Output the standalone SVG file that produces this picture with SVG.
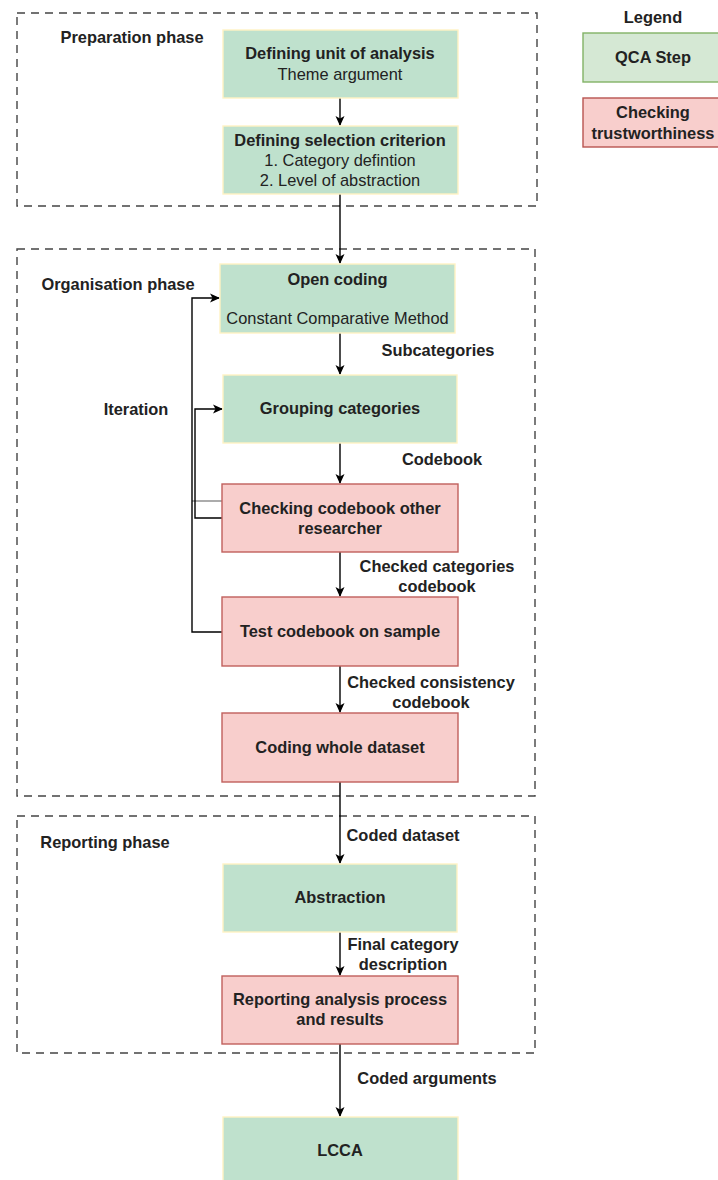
<svg xmlns="http://www.w3.org/2000/svg" width="718" height="1180" viewBox="0 0 718 1180">
  <style>
    text { font-family: "Liberation Sans", Arial, sans-serif; font-size: 16.4px; fill: #222; text-anchor: middle; }
    .b { font-weight: bold; }
    .phase { fill: none; stroke: #444; stroke-width: 1.4; stroke-dasharray: 8 6; }
    .step { fill: #bfe1cd; stroke: #fff2c4; stroke-width: 1.4; }
    .check { fill: #f8cecc; stroke: #c0605c; stroke-width: 1.4; }
    .lg-step { fill: #d5e8d4; stroke: #82b366; stroke-width: 1.4; }
    .lg-check { fill: #f8cecc; stroke: #b85450; stroke-width: 1.4; }
    .edge { fill: none; stroke: #000; stroke-width: 1.4; }
    .edge-grey { fill: none; stroke: #888; stroke-width: 1.4; }
  </style>
  <defs>
    <marker id="arrow" viewBox="0 0 10 10" refX="9" refY="5" markerWidth="10" markerHeight="10" markerUnits="userSpaceOnUse" orient="auto">
      <path d="M0,0.5 L10,5 L0,9.5 L2.5,5 Z" fill="#000"/>
    </marker>
  </defs>

  <!-- phase frames -->
  <g id="preparation-phase">
    <rect class="phase" x="17" y="13" width="520" height="193"/>
    <text class="b" x="132" y="43">Preparation phase</text>
  </g>
  <g id="organisation-phase">
    <rect class="phase" x="17" y="249" width="518" height="547"/>
    <text class="b" x="118" y="290">Organisation phase</text>
    <text class="b" x="136" y="415">Iteration</text>
  </g>
  <g id="reporting-phase">
    <rect class="phase" x="17" y="816" width="518" height="237"/>
    <text class="b" x="105" y="848">Reporting phase</text>
  </g>

  <!-- legend -->
  <g id="legend">
    <text class="b" x="653" y="23">Legend</text>
    <rect class="lg-step" x="583" y="33" width="140" height="49"/>
    <text class="b" x="653" y="63">QCA Step</text>
    <rect class="lg-check" x="583" y="98" width="140" height="49"/>
    <text class="b" x="653" y="118">Checking</text>
    <text class="b" x="653" y="139">trustworthiness</text>
  </g>

  <!-- connectors -->
  <g id="connectors">
    <path class="edge" d="M340,98 V125" marker-end="url(#arrow)"/>
    <path class="edge" d="M340,194 V263" marker-end="url(#arrow)"/>
    <path class="edge" d="M340,333 V374" marker-end="url(#arrow)"/>
    <path class="edge" d="M340,443 V483" marker-end="url(#arrow)"/>
    <path class="edge" d="M340,552 V596" marker-end="url(#arrow)"/>
    <path class="edge" d="M340,666 V712" marker-end="url(#arrow)"/>
    <path class="edge" d="M340,782 V863" marker-end="url(#arrow)"/>
    <path class="edge" d="M340,932 V975" marker-end="url(#arrow)"/>
    <path class="edge" d="M340,1044 V1116" marker-end="url(#arrow)"/>
    <!-- iteration loops -->
    <path class="edge-grey" d="M222,501 H192"/>
    <path class="edge" d="M222,632 H192 V298 H219" marker-end="url(#arrow)"/>
    <path class="edge" d="M222,518 H195 V409 H222" marker-end="url(#arrow)"/>
    <!-- connector labels -->
    <text class="b" x="438" y="356">Subcategories</text>
    <text class="b" x="442" y="465">Codebook</text>
    <text class="b" x="437" y="572">Checked categories</text>
    <text class="b" x="437" y="592">codebook</text>
    <text class="b" x="431" y="688">Checked consistency</text>
    <text class="b" x="431" y="708">codebook</text>
    <text class="b" x="403" y="841">Coded dataset</text>
    <text class="b" x="403" y="950">Final category</text>
    <text class="b" x="403" y="970">description</text>
    <text class="b" x="427" y="1084">Coded arguments</text>
  </g>

  <!-- steps -->
  <g id="unit-of-analysis">
    <rect class="step" x="223" y="30" width="235" height="68"/>
    <text class="b" x="340" y="59">Defining unit of analysis</text>
    <text x="340" y="80">Theme argument</text>
  </g>
  <g id="selection-criterion">
    <rect class="step" x="223" y="126" width="235" height="68"/>
    <text class="b" x="340" y="146">Defining selection criterion</text>
    <text x="340" y="166">1. Category defintion</text>
    <text x="340" y="186">2. Level of abstraction</text>
  </g>
  <g id="open-coding">
    <rect class="step" x="220" y="264" width="235" height="69"/>
    <text class="b" x="337.5" y="285">Open coding</text>
    <text x="337.5" y="324">Constant Comparative Method</text>
  </g>
  <g id="grouping-categories">
    <rect class="step" x="223" y="375" width="234" height="68"/>
    <text class="b" x="340" y="414">Grouping categories</text>
  </g>
  <g id="checking-codebook">
    <rect class="check" x="222" y="484" width="236" height="68"/>
    <text class="b" x="340" y="514">Checking codebook other</text>
    <text class="b" x="340" y="534">researcher</text>
  </g>
  <g id="test-codebook">
    <rect class="check" x="222" y="597" width="236" height="69"/>
    <text class="b" x="340" y="637">Test codebook on sample</text>
  </g>
  <g id="coding-dataset">
    <rect class="check" x="222" y="713" width="236" height="69"/>
    <text class="b" x="340" y="753">Coding whole dataset</text>
  </g>
  <g id="abstraction">
    <rect class="step" x="223" y="864" width="234" height="68"/>
    <text class="b" x="340" y="903">Abstraction</text>
  </g>
  <g id="reporting-analysis">
    <rect class="check" x="222" y="976" width="236" height="68"/>
    <text class="b" x="340" y="1005">Reporting analysis process</text>
    <text class="b" x="340" y="1025">and results</text>
  </g>
  <g id="lcca">
    <rect class="step" x="223" y="1117" width="235" height="68"/>
    <text class="b" x="340" y="1156">LCCA</text>
  </g>
</svg>
